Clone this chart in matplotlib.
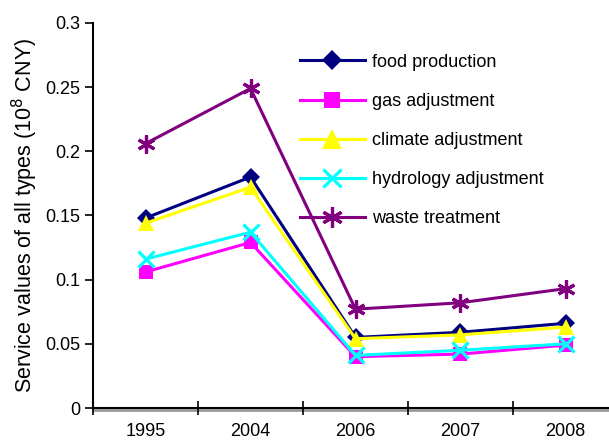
import numpy as np
import matplotlib.pyplot as plt

plt.rcParams['font.family'] = ['Liberation Sans', 'DejaVu Sans']

years = ['1995', '2004', '2006', '2007', '2008']
food = [0.148, 0.180, 0.055, 0.059, 0.066]
gas = [0.106, 0.129, 0.040, 0.042, 0.049]
climate = [0.144, 0.172, 0.054, 0.057, 0.063]
hydrology = [0.116, 0.137, 0.041, 0.045, 0.050]
waste = [0.206, 0.249, 0.077, 0.082, 0.093]

series = [
    ('food production', food, '#000080', 'D', 9),
    ('gas adjustment', gas, '#FF00FF', 's', 10),
    ('climate adjustment', climate, '#FFFF00', '^', 12),
    ('hydrology adjustment', hydrology, '#00FFFF', 'x', 11),
    ('waste treatment', waste, '#800080', (6, 2, 0), 13),
]

fig = plt.figure(figsize=(6.09, 4.40), dpi=100)
ax = fig.add_axes([93 / 609, 32 / 440, 525 / 609, 385 / 440])

x = np.arange(len(years))
for name, vals, col, mk, ms in series:
    kw = dict(markeredgewidth=2.3) if mk in ('x',) or isinstance(mk, tuple) else dict(markeredgewidth=0)
    ax.plot(x, vals, color=col, lw=2.2, marker=mk, markersize=ms,
            markerfacecolor=col, markeredgecolor=col, label=name, **kw)

ax.set_xlim(-0.5, 4.5)
ax.set_ylim(0, 0.3)
ax.set_yticks(np.arange(0, 0.31, 0.05))
ax.set_yticklabels(['0', '0.05', '0.1', '0.15', '0.2', '0.25', '0.3'])
ax.set_xticks(np.arange(-0.5, 5, 1))
ax.set_xticklabels([])
ax.set_xticks(x, minor=True)
ax.set_xticklabels(years, minor=True)
ax.tick_params(axis='x', which='major', direction='inout', length=10, width=1.2)
ax.tick_params(axis='x', which='minor', length=0, pad=11, labelsize=13)
ax.tick_params(axis='y', direction='out', length=6, width=1.2, labelsize=13, pad=3)

for s in ['top', 'right']:
    ax.spines[s].set_visible(False)
ax.spines['left'].set_linewidth(1.5)
ax.spines['bottom'].set_linewidth(1.5)
ax.axhline(-0.0013, color='#999999', lw=2, clip_on=False, zorder=0)

ax.set_ylabel('Service values of all types (10$^{8}$ CNY)', fontsize=15.5, labelpad=4)

ax.legend(loc='upper left', bbox_to_anchor=(0.394, 0.92), frameon=False,
          fontsize=13, handlelength=3.6, labelspacing=1.22, handletextpad=0.4,
          borderpad=0, borderaxespad=0, markerscale=1.15)

fig.savefig('out.png', dpi=100)
